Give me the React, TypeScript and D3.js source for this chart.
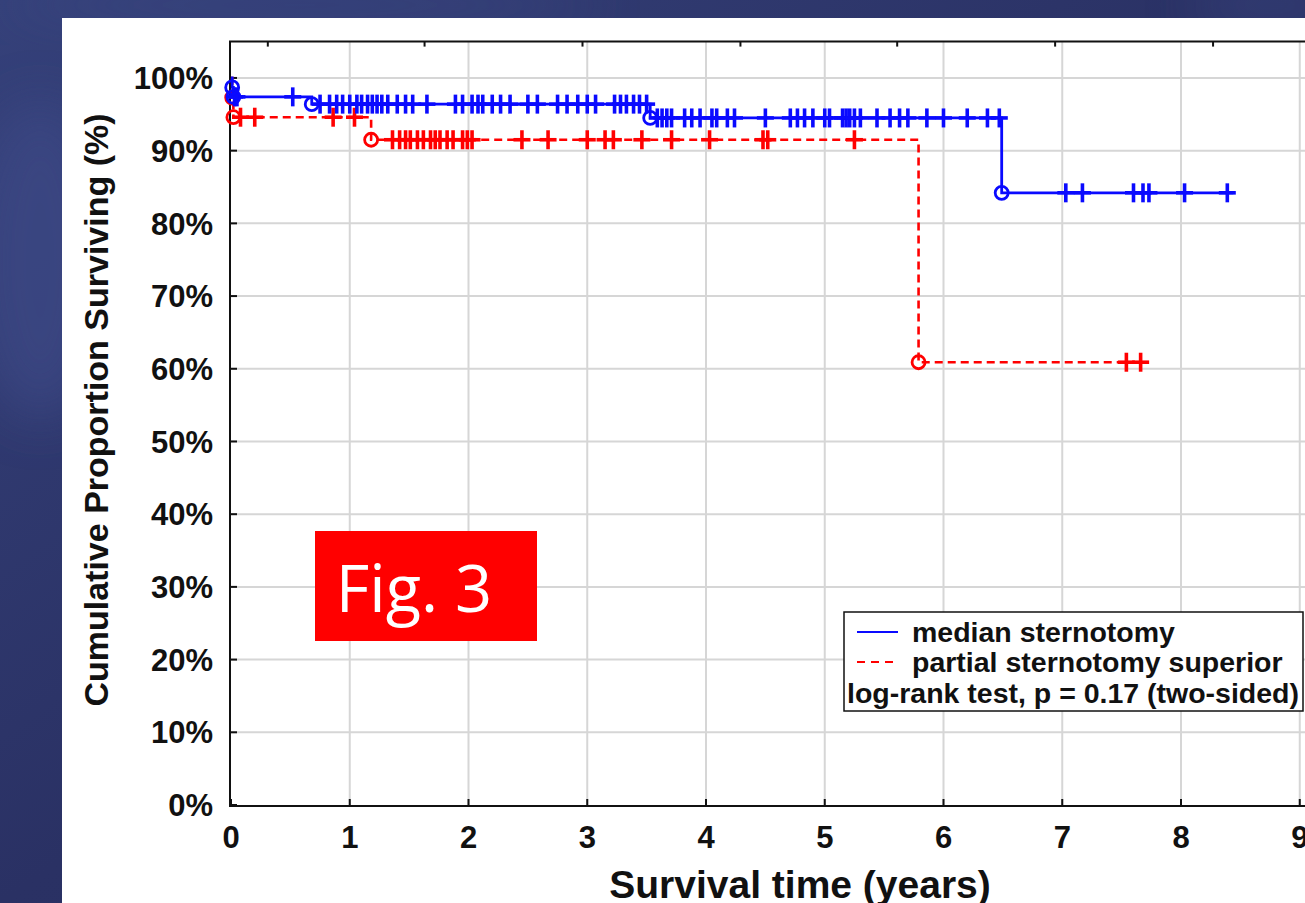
import React from 'react';
import * as d3 from 'd3';

// Kaplan-Meier curves: event (death) times and the survival level after each event
const blueEventTimes = [0.01, 0.02, 0.68, 3.53, 6.49];
const blueEventLevels = [98.7, 97.4, 96.4, 94.5, 84.2];
const blueEnd = 8.44;
const blueCensored = [
  0.03, 0.05, 0.52,
  0.75, 0.83, 0.89, 0.94, 1.0, 1.06, 1.1, 1.15, 1.19, 1.23, 1.27, 1.32, 1.4, 1.47, 1.53, 1.65,
  1.89, 1.95, 2.03, 2.08, 2.12, 2.2, 2.27, 2.35, 2.5, 2.58, 2.75, 2.83, 2.92, 3.0, 3.07,
  3.23, 3.28, 3.33, 3.39, 3.44, 3.5,
  3.59, 3.63, 3.67, 3.71, 3.82, 3.88, 3.95, 4.05, 4.09, 4.18, 4.24, 4.5, 4.71, 4.77, 4.83,
  4.9, 5.0, 5.04, 5.15, 5.18, 5.21, 5.25, 5.3, 5.44, 5.55, 5.63, 5.7, 5.86, 6.0, 6.2, 6.37, 6.47,
  7.03, 7.17, 7.6, 7.68, 7.73, 8.03, 8.39,
];

const redEventTimes = [0.01, 0.02, 1.18, 5.79];
const redEventLevels = [97.3, 94.6, 91.5, 60.9];
const redEnd = 7.72;
const redCensored = [
  0.08, 0.2, 0.86, 1.04,
  1.36, 1.42, 1.47, 1.51, 1.57, 1.62, 1.68, 1.72, 1.76, 1.82, 1.87, 1.95, 1.99, 2.03,
  2.45, 2.67, 3.0, 3.15, 3.22, 3.46, 3.71, 4.03, 4.48, 4.52, 5.25,
  7.54, 7.66,
];

const xTicks = [0, 1, 2, 3, 4, 5, 6, 7, 8, 9];
const yTicks = [0, 10, 20, 30, 40, 50, 60, 70, 80, 90, 100];
const topTicks = [0.31, 1.63, 2.96, 4.29, 5.61, 6.94, 8.27];

const legendLabels = ['median sternotomy', 'partial sternotomy superior'];
const legendNote = 'log-rank test, p = 0.17 (two-sided)';

const W = 1305;
const H = 903;
const BLUE = '#0a0aff';
const RED = '#ff0000';
const FONT = '"Liberation Sans", Arial, sans-serif';

const x = d3.scaleLinear().domain([0, 10]).range([231, 1418.5]);
const y = d3.scaleLinear().domain([0, 105]).range([805, 41.6]);

const levelAt = (times: number[], levels: number[], t: number) => {
  let lv = 100;
  times.forEach((et, i) => {
    if (et <= t) lv = levels[i];
  });
  return lv;
};

const stepLine = d3
  .line<[number, number]>()
  .x((d) => x(d[0]))
  .y((d) => y(d[1]))
  .curve(d3.curveStepAfter);

const kmPoints = (times: number[], levels: number[], end: number): [number, number][] => {
  const pts: [number, number][] = [[0, 100]];
  times.forEach((t, i) => pts.push([t, levels[i]]));
  pts.push([end, levels[levels.length - 1]]);
  return pts;
};

const Curve = ({ times, levels, end, censored, color, dash }: any) => {
  const s = 8.5;
  return (
    <g>
      <path
        d={stepLine(kmPoints(times, levels, end)) || ''}
        fill="none"
        stroke={color}
        strokeWidth={dash ? 2.6 : 2.8}
        strokeDasharray={dash ? '8,5' : undefined}
      />
      {censored.map((t: number, i: number) => {
        const cx = x(t);
        const cy = y(levelAt(times, levels, t));
        return (
          <g key={i} stroke={color} strokeWidth={3.6}>
            <line x1={cx - s} x2={cx + s} y1={cy} y2={cy} />
            <line x1={cx} x2={cx} y1={cy - s - 1} y2={cy + s + 1} />
          </g>
        );
      })}
      {times.map((t: number, i: number) => (
        <circle key={i} cx={x(t)} cy={y(levels[i])} r={6.5} fill="none" stroke={color} strokeWidth={2.8} />
      ))}
    </g>
  );
};

export default function App() {
  const [x0, x1] = [x(0), W + 5];
  const y0 = y(0);
  const yTop = y(105);
  return (
    <svg width={W} height={H} style={{ position: 'absolute', left: 0, top: 0 }} fontFamily={FONT}>
      <defs>
        <linearGradient id="bg" x1="0" y1="0" x2="1" y2="1">
          <stop offset="0" stopColor="#35417a" />
          <stop offset="0.5" stopColor="#2a3164" />
          <stop offset="1" stopColor="#262c5d" />
        </linearGradient>
        <filter id="blur" x="-50%" y="-50%" width="200%" height="200%">
          <feGaussianBlur stdDeviation="25" />
        </filter>
      </defs>
      <rect width={W} height={H} fill="url(#bg)" />
      <ellipse cx={40} cy={260} rx={70} ry={160} fill="#3c4a86" opacity={0.7} filter="url(#blur)" />
      <ellipse cx={300} cy={5} rx={300} ry={20} fill="#3a4682" opacity={0.6} filter="url(#blur)" />
      <ellipse cx={1270} cy={5} rx={80} ry={20} fill="#3a4682" opacity={0.6} filter="url(#blur)" />
      <rect x={62} y={18} width={W - 62} height={H - 18} fill="#ffffff" />

      {/* grid */}
      <g stroke="#d6d6d6" strokeWidth={2}>
        {xTicks.slice(1).map((t) => (
          <line key={t} x1={x(t)} x2={x(t)} y1={yTop} y2={y0} />
        ))}
        {yTicks.slice(1).map((v) => (
          <line key={v} x1={x0} x2={x1} y1={y(v)} y2={y(v)} />
        ))}
      </g>

      {/* frame and ticks */}
      <g stroke="#111" strokeWidth={2}>
        <line x1={x0 - 1} x2={x0 - 1} y1={yTop} y2={y0 + 1} />
        <line x1={x0 - 2} x2={x1} y1={y0 + 1} y2={y0 + 1} />
        <line x1={x0 - 2} x2={x1} y1={yTop} y2={yTop} />
        {xTicks.map((t) => (
          <line key={t} x1={x(t)} x2={x(t)} y1={y0} y2={y0 - 6} />
        ))}
        {yTicks.map((v) => (
          <line key={v} x1={x0} x2={x0 + 6} y1={y(v)} y2={y(v)} />
        ))}
        {topTicks.map((t) => (
          <line key={t} x1={x(t)} x2={x(t)} y1={yTop} y2={yTop + 5} />
        ))}
      </g>

      {/* tick labels */}
      <g fontWeight="bold" fontSize={31} fill="#111">
        {yTicks.map((v) => (
          <text key={v} x={213} y={y(v)} dy="0.36em" textAnchor="end">
            {v}%
          </text>
        ))}
        {xTicks.map((t) => (
          <text key={t} x={x(t)} y={848} textAnchor="middle">
            {t}
          </text>
        ))}
      </g>

      <text x={800} y={898} textAnchor="middle" fontWeight="bold" fontSize={39} fill="#111">
        Survival time (years)
      </text>
      <text
        transform="translate(108,410) rotate(-90)"
        textAnchor="middle"
        fontWeight="bold"
        fontSize={34}
        fill="#111"
      >
        Cumulative Proportion Surviving (%)
      </text>

      <Curve times={redEventTimes} levels={redEventLevels} end={redEnd} censored={redCensored} color={RED} dash />
      <Curve times={blueEventTimes} levels={blueEventLevels} end={blueEnd} censored={blueCensored} color={BLUE} />

      {/* legend */}
      <rect x={844} y={612} width={459} height={99} fill="#fff" stroke="#111" strokeWidth={1.5} />
      <line x1={857} x2={898} y1={632} y2={632} stroke={BLUE} strokeWidth={2} />
      <line x1={857} x2={898} y1={662} y2={662} stroke={RED} strokeWidth={2} strokeDasharray="8,6" />
      <g fontWeight="bold" fontSize={28.5} fill="#111">
        {legendLabels.map((l, i) => (
          <text key={l} x={912} y={642 + i * 30}>
            {l}
          </text>
        ))}
        <text x={847} y={703} textLength={452} lengthAdjust="spacingAndGlyphs">
          {legendNote}
        </text>
      </g>

      {/* figure tag */}
      <rect x={315} y={531} width={222} height={110} fill="#ff0000" />
      <text x={414} y={612} textAnchor="middle" fontFamily='"Open Sans", "Noto Sans", sans-serif' fontSize={65} fill="#fff">
        Fig. 3
      </text>
    </svg>
  );
}
